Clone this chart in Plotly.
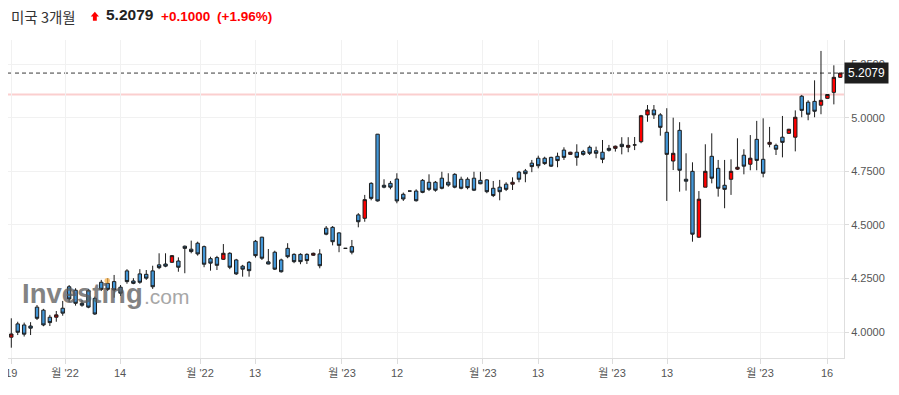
import plotly.graph_objects as go

# ---------------- data ----------------
title_name = "미국 3개월"
last_price = 5.2079
prev_close = 5.1079
change_text = "+0.1000"
change_pct_text = "(+1.96%)"

# candle body top / bottom, wick high / low, colour ("R" = up, "B" = down, "F" = flat)
candle_dir = [
    "R","B","B","B","B","B","B","R","B","B","B","B","B","B","B","B","B","B","B","B",
    "B","B","B","B","B","R","B","B","B","B","B","B","B","R","B","B","B","B","B","B",
    "B","B","B","B","B","B","B","R","B","B","B","B","F","B","B","R","B","B","B","B",
    "B","B","F","B","B","B","B","B","B","B","B","B","B","B","B","B","B","B","R","B",
    "B","B","B","B","B","B","B","R","B","B","B","B","B","B","R","B","R","F","R","R",
    "B","B","B","R","B","B","B","R","R","B","B","B","R","R","B","R","B","B","R","B",
    "B","R","R","B","B","B","R","R","R","R",
]
body_top = [
    3.992,4.039,4.034,4.029,4.117,4.103,4.070,4.081,4.112,4.212,4.196,4.135,4.194,4.158,4.233,4.228,4.236,4.210,4.286,4.239,
    4.272,4.270,4.286,4.314,4.318,4.357,4.332,4.401,4.387,4.415,4.399,4.343,4.348,4.368,4.368,4.337,4.308,4.326,4.424,4.443,
    4.328,4.373,4.337,4.391,4.363,4.363,4.363,4.368,4.365,4.485,4.489,4.463,4.391,4.399,4.547,4.618,4.694,4.923,4.685,4.694,
    4.714,4.643,4.658,4.658,4.708,4.699,4.699,4.718,4.699,4.736,4.713,4.713,4.718,4.708,4.710,4.671,4.676,4.690,4.699,4.746,
    4.752,4.788,4.811,4.811,4.815,4.820,4.849,4.839,4.839,4.842,4.862,4.846,4.839,4.857,4.867,4.876,4.871,4.873,5.009,5.036,
    5.036,5.013,4.932,4.834,4.941,4.713,4.750,4.620,4.750,4.820,4.764,4.685,4.750,4.769,4.825,4.811,4.899,4.806,4.885,4.871,
    4.909,4.946,5.002,5.100,5.072,5.076,5.081,5.108,5.188,5.2079,
]
body_bottom = [
    3.977,4.000,3.991,4.019,4.065,4.034,4.045,4.070,4.089,4.155,4.135,4.126,4.117,4.085,4.200,4.200,4.197,4.182,4.236,4.228,
    4.233,4.252,4.212,4.301,4.308,4.326,4.303,4.391,4.376,4.365,4.317,4.322,4.312,4.340,4.303,4.272,4.294,4.287,4.357,4.345,
    4.318,4.294,4.282,4.352,4.329,4.329,4.334,4.359,4.310,4.457,4.422,4.405,4.391,4.373,4.515,4.531,4.624,4.612,4.676,4.676,
    4.612,4.621,4.658,4.613,4.652,4.666,4.662,4.671,4.686,4.676,4.671,4.674,4.662,4.692,4.655,4.637,4.655,4.666,4.690,4.713,
    4.739,4.772,4.776,4.786,4.774,4.800,4.815,4.829,4.815,4.829,4.834,4.834,4.806,4.848,4.857,4.865,4.862,4.873,4.888,5.013,
    5.013,4.955,4.829,4.798,4.755,4.704,4.457,4.443,4.676,4.718,4.671,4.666,4.713,4.760,4.774,4.783,4.801,4.741,4.876,4.853,
    4.885,4.927,4.909,5.034,5.016,5.030,5.058,5.090,5.118,5.188,
]
high = [
    4.065,4.049,4.045,4.047,4.127,4.109,4.081,4.099,4.146,4.220,4.205,4.151,4.202,4.166,4.244,4.252,4.267,4.220,4.294,4.252,
    4.294,4.290,4.310,4.368,4.368,4.360,4.349,4.404,4.427,4.422,4.404,4.352,4.356,4.411,4.373,4.342,4.314,4.332,4.430,4.445,
    4.388,4.380,4.343,4.415,4.368,4.368,4.368,4.371,4.387,4.495,4.495,4.466,4.391,4.430,4.555,4.640,4.699,4.924,4.713,4.705,
    4.741,4.651,4.658,4.666,4.714,4.736,4.705,4.748,4.741,4.741,4.725,4.722,4.748,4.748,4.714,4.705,4.710,4.699,4.722,4.752,
    4.761,4.803,4.823,4.818,4.818,4.837,4.862,4.841,4.876,4.850,4.870,4.865,4.896,4.873,4.870,4.909,4.909,4.910,5.013,5.059,
    5.059,5.021,5.044,5.000,4.979,4.834,4.792,4.658,4.876,4.927,4.803,4.803,4.806,4.904,4.853,4.919,4.985,4.997,4.957,4.879,
    5.008,4.948,5.034,5.106,5.081,5.174,5.311,5.110,5.244,5.209,
]
low = [
    3.928,3.987,3.980,3.987,4.057,4.028,4.029,4.049,4.077,4.140,4.124,4.119,4.112,4.081,4.192,4.192,4.161,4.169,4.226,4.224,
    4.226,4.244,4.202,4.294,4.303,4.324,4.282,4.275,4.368,4.357,4.303,4.287,4.290,4.337,4.294,4.267,4.259,4.259,4.348,4.337,
    4.317,4.290,4.278,4.345,4.322,4.317,4.318,4.356,4.298,4.452,4.405,4.373,4.391,4.363,4.489,4.515,4.615,4.609,4.671,4.666,
    4.601,4.612,4.658,4.609,4.648,4.658,4.655,4.666,4.678,4.671,4.666,4.666,4.658,4.690,4.648,4.630,4.615,4.658,4.663,4.699,
    4.699,4.746,4.764,4.780,4.770,4.769,4.803,4.827,4.776,4.823,4.826,4.811,4.788,4.842,4.842,4.829,4.839,4.849,4.881,4.981,
    4.994,4.916,4.612,4.756,4.655,4.660,4.422,4.440,4.676,4.694,4.632,4.578,4.640,4.756,4.736,4.755,4.755,4.722,4.862,4.826,
    4.815,4.925,4.843,5.002,4.988,5.002,5.016,5.088,5.062,5.186,
]

tick_pos = [0, 8.36, 16.92, 29.37, 37.93, 51.46, 60.02, 73.4, 81.97, 93.48, 102.04, 116.51, 126.94]
tick_text = ["19", "월 '22", "14", "월 '22", "13", "월 '23", "12", "월 '23", "13", "월 '23", "13", "월 '23", "16"]
y_ticks = [4.0, 4.25, 4.5, 4.75, 5.0, 5.25]

# ---------------- build OHLC from bodies ----------------
opens, closes = [], []
for d, t, b in zip(candle_dir, body_top, body_bottom):
    if d == "R":
        opens.append(b); closes.append(t)
    elif d == "B":
        opens.append(t); closes.append(b)
    else:
        opens.append(t); closes.append(t)
xs = list(range(len(opens)))

FONT = "Liberation Sans, Arial, Noto Sans CJK KR, sans-serif"
# the page body has an 8px margin, so the figure starts at screen (8, 8)
OFF = 8
W, H = 891, 387
ML, MR, MT, MB = 0, 55, 32, 37
PW, PH = W - ML - MR, H - MT - MB

def px_x(p):
    # screen px -> paper
    return (p - OFF - ML) / PW

def px_y(p):
    return (MT + PH - (p - OFF)) / PH

fig = go.Figure()
fig.add_trace(go.Candlestick(
    x=xs, open=opens, high=high, low=low, close=closes,
    increasing=dict(fillcolor="#ff0000", line=dict(color="#1c1c1c", width=1)),
    decreasing=dict(fillcolor="#4397d8", line=dict(color="#1c1c1c", width=1)),
    whiskerwidth=0, hoverinfo="skip", showlegend=False,
))

shapes = [
    dict(type="line", xref="paper", yref="y", x0=0, x1=1, y0=prev_close, y1=prev_close,
         line=dict(color="#fbcfcf", width=2), layer="between"),
    dict(type="line", xref="paper", yref="y", x0=0, x1=1, y0=last_price, y1=last_price,
         line=dict(color="#3a3a3a", width=1, dash="4px,3px"), layer="between"),
    # orange accent of the watermark logo
    dict(type="circle", xref="paper", yref="paper",
         x0=px_x(104.5), x1=px_x(110), y0=px_y(283.5), y1=px_y(278),
         fillcolor="rgba(245,170,60,0.7)", line=dict(width=0), layer="above"),
]
# red up-arrow icon in the header
ax0, ax1, axm = 90.7, 99.0, 94.85
ay_tip, ay_mid, ay_bot = 11.7, 16.5, 20.7
sx0, sx1 = 92.9, 96.8
path = (f"M {px_x(axm)},{px_y(ay_tip)} L {px_x(ax1)},{px_y(ay_mid)} L {px_x(sx1)},{px_y(ay_mid)} "
        f"L {px_x(sx1)},{px_y(ay_bot)} L {px_x(sx0)},{px_y(ay_bot)} L {px_x(sx0)},{px_y(ay_mid)} "
        f"L {px_x(ax0)},{px_y(ay_mid)} Z")
shapes.append(dict(type="path", xref="paper", yref="paper", path=path,
                   fillcolor="#ff0000", line=dict(width=0)))

annotations = [
    dict(text=title_name, xref="paper", yref="paper", x=px_x(8.5), y=px_y(16),
         xanchor="left", yanchor="middle", showarrow=False,
         font=dict(family="Noto Sans CJK KR, sans-serif", size=14.5, color="#333333")),
    dict(text=f"<b>{last_price:.4f}</b>", xref="paper", yref="paper", x=px_x(103.5), y=px_y(15),
         xanchor="left", yanchor="middle", showarrow=False,
         font=dict(family=FONT, size=15.5, color="#222222")),
    dict(text=f"<b>{change_text}</b>", xref="paper", yref="paper", x=px_x(158.5), y=px_y(16.0),
         xanchor="left", yanchor="middle", showarrow=False,
         font=dict(family=FONT, size=13.5, color="#ff0000")),
    dict(text=f"<b>{change_pct_text}</b>", xref="paper", yref="paper", x=px_x(215), y=px_y(16.0),
         xanchor="left", yanchor="middle", showarrow=False,
         font=dict(family=FONT, size=13.5, color="#ff0000")),
    # price tag on the right axis
    dict(text=f"{last_price:.4f}", xref="paper", yref="y", x=1, y=last_price,
         xanchor="left", yanchor="middle", showarrow=False, bgcolor="#1e1e1e",
         borderpad=3, font=dict(family=FONT, size=12, color="#ffffff")),
    # watermark
    dict(text="<b>Investing</b>", xref="paper", yref="paper", x=px_x(20), y=px_y(293),
         xanchor="left", yanchor="middle", showarrow=False, opacity=0.75,
         font=dict(family=FONT, size=27.5, color="#5a5a5a")),
    dict(text=".com", xref="paper", yref="paper", x=px_x(142), y=px_y(296),
         xanchor="left", yanchor="middle", showarrow=False, opacity=0.75,
         font=dict(family=FONT, size=21, color="#8a8a8a")),
]

fig.update_layout(
    width=W, height=H, autosize=False,
    margin=dict(l=ML, r=MR, t=MT, b=MB, pad=0, autoexpand=False),
    paper_bgcolor="#ffffff", plot_bgcolor="#ffffff",
    showlegend=False, hovermode=False,
    boxgap=0.25,
    shapes=shapes, annotations=annotations,
    font=dict(family=FONT, size=11, color="#555555"),
)
fig.update_xaxes(
    range=[-0.514, 129.58], tickmode="array", tickvals=tick_pos, ticktext=tick_text,
    showgrid=True, gridcolor="#f1f1f1", gridwidth=1, zeroline=False,
    showline=True, linecolor="#dedede", linewidth=1,
    ticks="outside", ticklen=5, tickcolor="#dcdcdc",
    tickfont=dict(family=FONT, size=11, color="#555555"),
    ticklabeloverflow="allow",
    rangeslider=dict(visible=False), fixedrange=True, automargin=False,
)
fig.update_yaxes(
    side="right", range=[3.880, 5.362], tickmode="array", tickvals=y_ticks,
    ticktext=[f"{v:.4f}" for v in y_ticks],
    showgrid=True, gridcolor="#f1f1f1", gridwidth=1, zeroline=False,
    showline=True, linecolor="#dedede", linewidth=1,
    ticks="outside", ticklen=4, tickcolor="#dcdcdc",
    tickfont=dict(family=FONT, size=11, color="#555555"), fixedrange=True, automargin=False,
)

fig.write_html("out.html", config={"displayModeBar": False, "staticPlot": True})
